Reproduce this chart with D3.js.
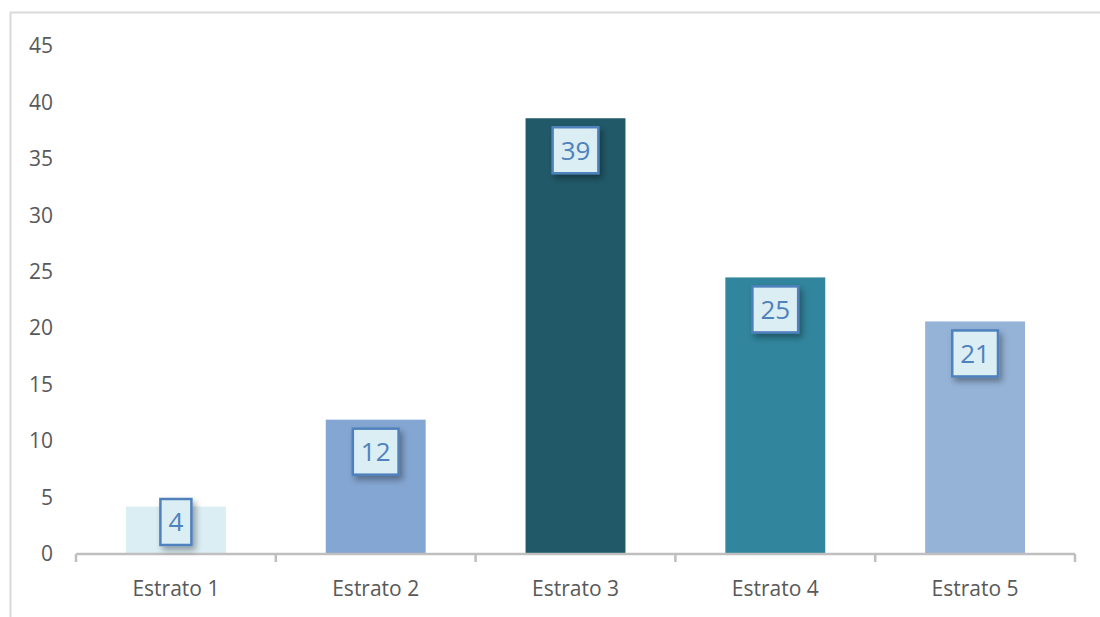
<!DOCTYPE html>
<html>
<head>
<meta charset="utf-8">
<title>Estratos</title>
<script src="https://d3js.org/d3.v7.min.js"></script>
<style>
  body { margin: 0; background: #fff; }
  text { font-family: "Open Sans", sans-serif; }
</style>
</head>
<body>
<script>
// data
const categories = ["Estrato 1", "Estrato 2", "Estrato 3", "Estrato 4", "Estrato 5"];
const values = [4.2, 11.9, 38.6, 24.5, 20.6];
const barColors = ["#daeef3", "#84a6d2", "#215968", "#31859c", "#95b3d7"];
const yTicks = [0, 5, 10, 15, 20, 25, 30, 35, 40, 45];

const W = 1100, H = 617;
const mLeft = 76, mRight = 1075, mTop = 46, mBottom = 554;

const svg = d3.select("body").append("svg")
  .attr("width", W).attr("height", H);

// soft shadow for the value boxes
const defs = svg.append("defs");
defs.append("filter").attr("id", "shadow")
  .attr("x", "-30%").attr("y", "-30%").attr("width", "170%").attr("height", "170%")
  .append("feDropShadow")
  .attr("dx", 3).attr("dy", 4).attr("stdDeviation", 3)
  .attr("flood-color", "#000").attr("flood-opacity", 0.35);

// frame
svg.append("line").attr("x1", 10).attr("x2", W).attr("y1", 12.5).attr("y2", 12.5)
  .attr("stroke", "#d9d9d9").attr("stroke-width", 2);
svg.append("line").attr("x1", 10.5).attr("x2", 10.5).attr("y1", 12).attr("y2", H)
  .attr("stroke", "#d9d9d9").attr("stroke-width", 2);

const x = d3.scaleBand().domain(categories).range([mLeft, mRight])
  .paddingInner(0.5).paddingOuter(0.25);
const y = d3.scaleLinear().domain([0, 45]).range([mBottom, mTop]);

// y axis: labels only
const yAxis = svg.append("g")
  .attr("transform", "translate(56,0)")
  .call(d3.axisLeft(y).tickValues(yTicks).tickSize(0).tickPadding(3));
yAxis.select(".domain").remove();
yAxis.selectAll("text")
  .attr("fill", "#595959").style("font-size", "21px").style("font-family", "Open Sans");

// bars
svg.selectAll("rect.bar")
  .data(values)
  .join("rect")
  .attr("class", "bar")
  .attr("x", (d, i) => x(categories[i]))
  .attr("y", d => y(d))
  .attr("width", x.bandwidth())
  .attr("height", d => y(0) - y(d))
  .attr("fill", (d, i) => barColors[i]);

// x axis
const xAxis = svg.append("g")
  .attr("transform", `translate(0,${mBottom})`)
  .call(d3.axisBottom(x).tickSize(0).tickPadding(27));
xAxis.select(".domain").remove();
xAxis.selectAll("text")
  .attr("fill", "#595959").style("font-size", "21px").style("font-family", "Open Sans");

svg.append("line")
  .attr("x1", mLeft).attr("x2", mRight).attr("y1", mBottom).attr("y2", mBottom)
  .attr("stroke", "#bfbfbf").attr("stroke-width", 2.5);

const step = x.step();
const bounds = categories.map(c => x(c) - step * 0.25).concat([mRight]);
svg.selectAll("line.tick-b")
  .data(bounds)
  .join("line")
  .attr("class", "tick-b")
  .attr("x1", d => d).attr("x2", d => d)
  .attr("y1", mBottom).attr("y2", mBottom + 8)
  .attr("stroke", "#bfbfbf").attr("stroke-width", 2.5);

// value boxes
const labels = svg.selectAll("g.lbl")
  .data(values)
  .join("g")
  .attr("class", "lbl");

labels.each(function(d, i) {
  const g = d3.select(this);
  const cx = x(categories[i]) + x.bandwidth() / 2;
  const cy = Math.min(y(d) + 32, mBottom - 32);
  const rect = g.append("rect").attr("filter", "url(#shadow)");
  const t = g.append("text")
    .attr("x", cx).attr("y", cy)
    .attr("text-anchor", "middle")
    .attr("dy", "0.36em")
    .attr("fill", "#4f81bd")
    .style("font-size", "26px")
    .text(d3.format(".0f")(d));
  const bw = t.node().getBBox().width + 16;
  const bh = 46;
  rect.attr("x", cx - bw / 2).attr("y", cy - bh / 2)
    .attr("width", bw).attr("height", bh)
    .attr("fill", "#dbeef4")
    .attr("stroke", "#4f81bd").attr("stroke-width", 2.5);
});
</script>
</body>
</html>
